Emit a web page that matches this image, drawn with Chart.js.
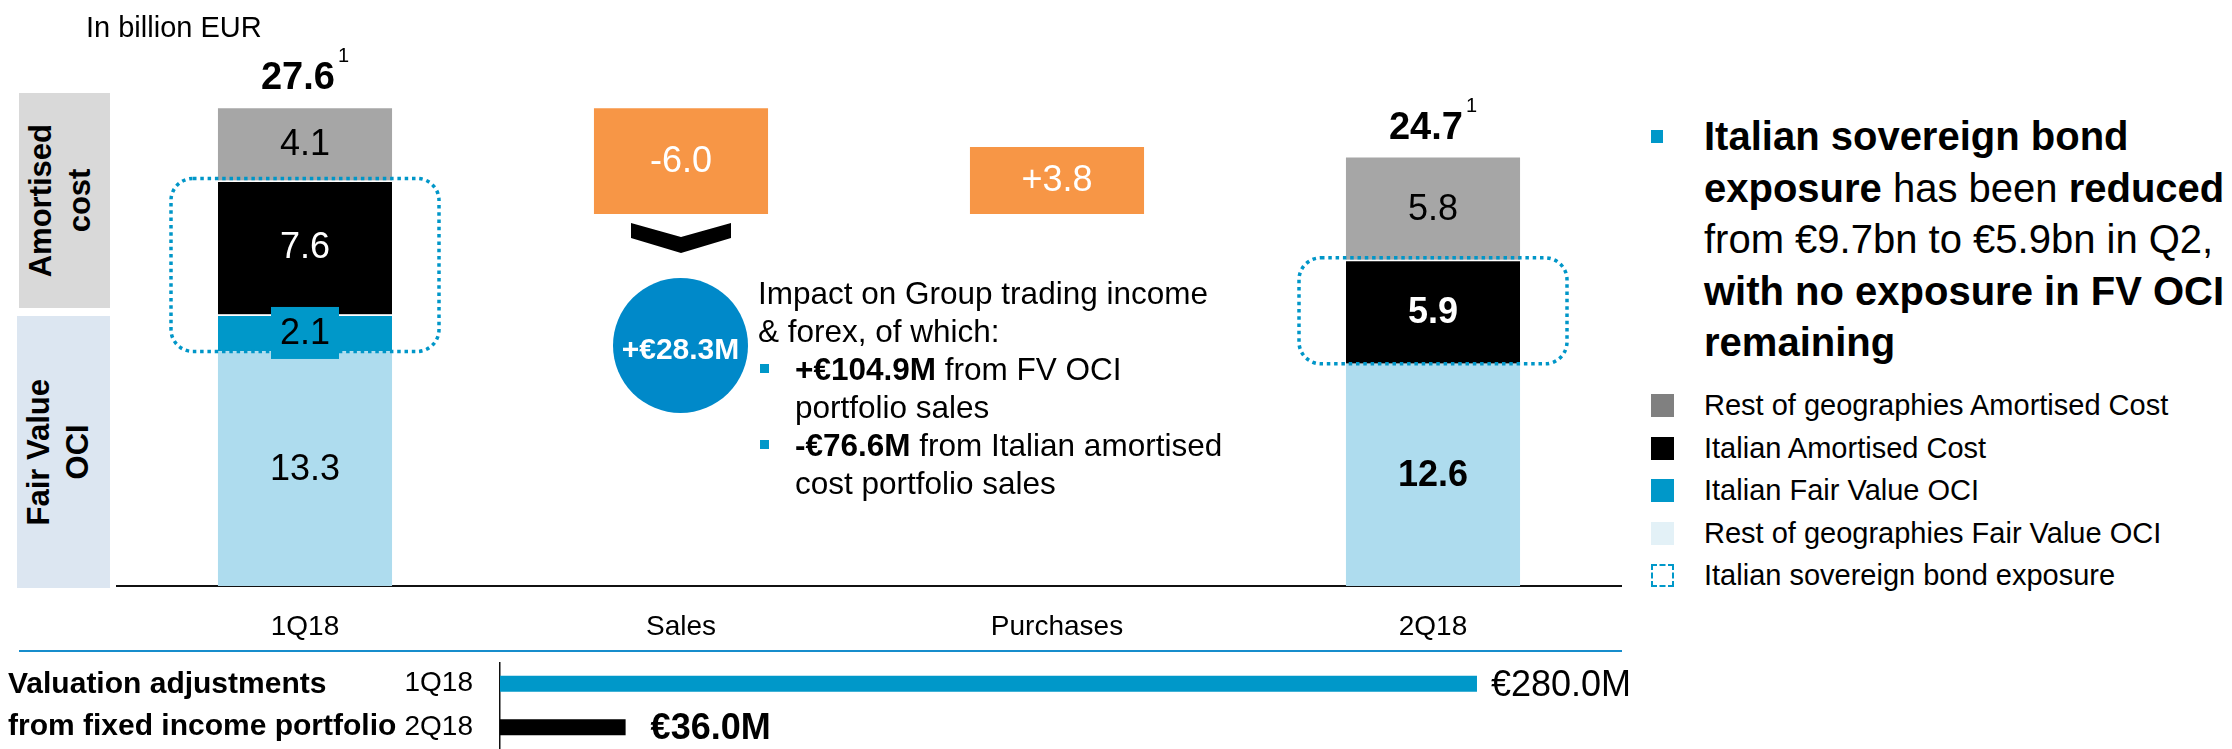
<!DOCTYPE html>
<html>
<head>
<meta charset="utf-8">
<script src="https://cdn.jsdelivr.net/npm/chart.js@4.4.1/dist/chart.umd.min.js"></script>
<style>
    body { margin: 0; background: #fff; }
    #page { position: relative; width: 2232px; height: 749px; overflow: hidden; font-family: 'Liberation Sans', Arial, sans-serif; color: #000; }
    .abs { position: absolute; }
    .side { position: absolute; display: flex; align-items: center; justify-content: center; box-sizing: border-box; }
    .side span { writing-mode: vertical-rl; transform: rotate(180deg); font-weight: bold; font-size: 31px; line-height: 39px; text-align: center; white-space: nowrap; }
    .item { position: relative; padding-left: 37px; }
    .item .sq { position: absolute; left: 2px; top: 14px; width: 9px; height: 9px; background: #0098c9; }
    .leg { position: absolute; left: 1651px; height: 42px; line-height: 42px; font-size: 29px; white-space: nowrap; }
    .leg i { position: absolute; left: 0; top: 10px; width: 23px; height: 23px; box-sizing: border-box; }
    .leg span { position: absolute; left: 53px; top: 0; }
</style>
</head>
<body>
<div id="page">
    <canvas id="mainChart" width="1640" height="660" class="abs" style="left:0;top:0"></canvas>
    <canvas id="valChart" width="1660" height="87" class="abs" style="left:0;top:662px"></canvas>

    <div class="abs" style="left:86px;top:10px;font-size:29px;line-height:34px;white-space:nowrap">In billion EUR</div>

    <!-- kutular: sol taraftaki döndürülmüş etiketler -->
    <div class="side" style="left:19px;top:93px;width:91px;height:215px;background:#d9d9d9;padding-right:10px"><span>Amortised<br>cost</span></div>
    <div class="side" style="left:17px;top:316px;width:93px;height:272px;background:#dce6f1;padding-right:12px"><span>Fair Value<br>OCI</span></div>

    <!-- ok ve daire -->
    <div class="abs" style="left:631px;top:223px;width:100px;height:30px;background:#000;clip-path:polygon(0 0,50% 47%,100% 0,100% 50%,50% 100%,0 50%)"></div>
    <div class="abs" style="left:613px;top:278px;width:135px;height:135px;border-radius:50%;background:#0089c9;color:#fff;font-weight:bold;font-size:30px;display:flex;align-items:center;justify-content:center;padding-top:6px;box-sizing:border-box;white-space:nowrap">+€28.3M</div>

    <div class="abs" style="left:758px;top:274px;font-size:31.5px;line-height:38px;white-space:nowrap">
        Impact on Group trading income<br>&amp; forex, of which:
        <div class="item"><span class="sq"></span><b>+€104.9M</b> from FV OCI<br>portfolio sales</div>
        <div class="item"><span class="sq"></span><b>-€76.6M</b> from Italian amortised<br>cost portfolio sales</div>
    </div>

    <!-- sağ taraftaki açıklama -->
    <div class="abs" style="left:1651px;top:130px;width:12px;height:13px;background:#0098c9"></div>
    <div class="abs" style="left:1704px;top:111px;font-size:40px;line-height:51.5px;white-space:nowrap">
        <b>Italian sovereign bond</b><br><b>exposure</b> has been <b>reduced</b><br>from €9.7bn to €5.9bn in Q2,<br><b>with no exposure in FV OCI</b><br><b>remaining</b>
    </div>

    <div id="legend"></div>

    <div class="abs" style="left:19px;top:650px;width:1603px;height:2px;background:#178dcc"></div>
    <div class="abs" style="left:8px;top:662px;font-size:30px;line-height:42px;font-weight:bold;white-space:nowrap">Valuation adjustments<br>from fixed income portfolio</div>
</div>

<script>
// Grafik verileri
const categories = ['1Q18', 'Sales', 'Purchases', '2Q18'];
const restFvOci = [13.3, null, null, 12.6];
const italianFvOci = [2.1, null, null, 0];
const italianAmortised = [7.6, null, null, 5.9];
const restAmortised = [4.1, null, null, 5.8];
const reportedTotals = [27.6, null, null, 24.7];
const flows = [null, -6.0, 3.8, null];

const valCategories = ['1Q18', '2Q18'];
const valuationAdj = [280.0, 36.0];

const legendItems = [
    ['Rest of geographies Amortised Cost', 'background:#808080'],
    ['Italian Amortised Cost', 'background:#000'],
    ['Italian Fair Value OCI', 'background:#0098c9'],
    ['Rest of geographies Fair Value OCI', 'background:#e3f1f7'],
    ['Italian sovereign bond exposure', 'border:2px dashed #0098c9']
];

const FONT = "'Liberation Sans', Arial, sans-serif";
Chart.defaults.font.family = FONT;
Chart.defaults.color = '#000';

// Şelale: satışlar 1Q18 yığınının tepesinden başlar, alımlar satışların bittiği yerden
let level = restFvOci[0] + italianFvOci[0] + italianAmortised[0] + restAmortised[0];
const flowRanges = flows.map(v => {
    if (v === null) return null;
    const start = level;
    level += v;
    return [Math.min(start, level), Math.max(start, level)];
});

// Lejant
const legendBox = document.getElementById('legend');
legendItems.forEach((item, k) => {
    const row = document.createElement('div');
    row.className = 'leg';
    row.style.top = (384 + k * 42.5) + 'px';
    row.innerHTML = `<i style="${item[1]}"></i><span>${item[0]}</span>`;
    legendBox.appendChild(row);
});

function roundedBox(ctx, x, y, w, h, r) {
    ctx.beginPath();
    ctx.moveTo(x + r, y);
    ctx.arcTo(x + w, y, x + w, y + h, r);
    ctx.arcTo(x + w, y + h, x, y + h, r);
    ctx.arcTo(x, y + h, x, y, r);
    ctx.arcTo(x, y, x + w, y, r);
    ctx.closePath();
}

// Noktalı kutular, segment etiketleri ve toplamlar
const annotations = {
    id: 'annotations',
    afterDatasetsDraw(chart) {
        const ctx = chart.ctx;
        const metaFv = chart.getDatasetMeta(1);
        const metaAc = chart.getDatasetMeta(2);
        const metaRest = chart.getDatasetMeta(3);

        // İtalyan devlet tahvili pozisyonu
        ctx.save();
        ctx.strokeStyle = '#0096c8';
        ctx.lineWidth = 3.5;
        ctx.setLineDash([3.5, 3.8]);
        categories.forEach((c, i) => {
            if (italianAmortised[i] === null) return;
            const ac = metaAc.data[i];
            const top = ac.y - 2;
            const bottom = italianFvOci[i] > 0 ? metaFv.data[i].base : ac.base;
            roundedBox(ctx, ac.x - 134, top, 268, bottom - top, 22);
            ctx.stroke();
        });
        ctx.restore();

        ctx.save();
        ctx.textAlign = 'center';
        ctx.textBaseline = 'middle';
        chart.data.datasets.forEach((ds, di) => {
            const lbl = ds.valueLabel;
            if (!lbl) return;
            chart.getDatasetMeta(di).data.forEach((bar, i) => {
                const v = ds.data[i];
                if (v === null || v === 0) return;
                const cy = (bar.y + bar.base) / 2;
                if (lbl.box) {
                    ctx.fillStyle = lbl.box;
                    ctx.fillRect(bar.x - 34, cy - 26, 68, 52);
                }
                const bold = lbl.bold && lbl.bold[i];
                ctx.font = `${bold ? 'bold ' : ''}36px ${FONT}`;
                ctx.fillStyle = lbl.color;
                ctx.fillText(lbl.format(i), bar.x, cy + 1);
            });
        });

        // Toplam ve dipnot
        ctx.textAlign = 'left';
        ctx.textBaseline = 'alphabetic';
        reportedTotals.forEach((t, i) => {
            if (t === null) return;
            const bar = metaRest.data[i];
            const main = t.toFixed(1);
            ctx.font = `bold 38px ${FONT}`;
            const w1 = ctx.measureText(main).width;
            ctx.font = `20px ${FONT}`;
            const w2 = ctx.measureText('1').width;
            const x0 = bar.x - (w1 + 3 + w2) / 2;
            const base = bar.y - 19;
            ctx.fillStyle = '#000';
            ctx.font = `bold 38px ${FONT}`;
            ctx.fillText(main, x0, base);
            ctx.font = `20px ${FONT}`;
            ctx.fillText('1', x0 + w1 + 3, base - 27);
        });
        ctx.restore();
    }
};

const fmt1 = arr => i => arr[i].toFixed(1);
// segmentler arasındaki ince beyaz çizgi
const whiteTop = { borderColor: '#fff', borderWidth: { top: 1.5, right: 0, bottom: 0, left: 0 } };

new Chart(document.getElementById('mainChart').getContext('2d'), {
    type: 'bar',
    data: {
        labels: categories,
        datasets: [
            { label: 'Rest of geographies Fair Value OCI', data: restFvOci, backgroundColor: '#aedcee',
              valueLabel: { color: '#000', bold: [false, false, false, true], format: fmt1(restFvOci) } },
            Object.assign({ label: 'Italian Fair Value OCI', data: italianFvOci, backgroundColor: '#0098c9',
              valueLabel: { color: '#000', box: '#0098c9', format: fmt1(italianFvOci) } }, whiteTop),
            Object.assign({ label: 'Italian Amortised Cost', data: italianAmortised, backgroundColor: '#000',
              valueLabel: { color: '#fff', bold: [false, false, false, true], format: fmt1(italianAmortised) } }, whiteTop),
            { label: 'Rest of geographies Amortised Cost', data: restAmortised, backgroundColor: '#a6a6a6',
              valueLabel: { color: '#000', format: fmt1(restAmortised) } },
            { label: 'Flows', data: flowRanges, backgroundColor: '#f79646',
              valueLabel: { color: '#fff', format: i => (flows[i] > 0 ? '+' : '') + flows[i].toFixed(1) } }
        ]
    },
    options: {
        responsive: false,
        animation: false,
        layout: { padding: { left: 117, right: 19, top: 57, bottom: 0 } },
        datasets: { bar: { categoryPercentage: 1, barPercentage: 0.463, borderWidth: 0, borderSkipped: false } },
        plugins: { legend: { display: false }, tooltip: { enabled: false } },
        scales: {
            x: {
                stacked: true,
                grid: { display: false, drawTicks: false },
                border: { display: true, color: '#111', width: 2 },
                ticks: { font: { size: 28 }, color: '#000', padding: 24 },
                afterFit(scale) { scale.height = 74; }
            },
            y: { stacked: true, display: false, min: 0, max: 30 }
        }
    },
    plugins: [annotations]
});

// Alt grafik: sabit getirili portföy değerleme ayarlamaları
const valLabels = {
    id: 'valLabels',
    afterDatasetsDraw(chart) {
        const ctx = chart.ctx;
        ctx.save();
        ctx.textBaseline = 'middle';
        ctx.textAlign = 'left';
        chart.getDatasetMeta(0).data.forEach((bar, i) => {
            const bold = i === 1;
            ctx.font = `${bold ? 'bold ' : ''}36px ${FONT}`;
            ctx.fillStyle = '#000';
            ctx.fillText('€' + valuationAdj[i].toFixed(1) + 'M', bar.x + (bold ? 25 : 14), bar.y + 2);
        });
        ctx.restore();
    }
};

new Chart(document.getElementById('valChart').getContext('2d'), {
    type: 'bar',
    data: {
        labels: valCategories,
        datasets: [{ data: valuationAdj, backgroundColor: ['#0098c9', '#000'], borderWidth: 0,
                     categoryPercentage: 1, barPercentage: 0.37 }]
    },
    options: {
        indexAxis: 'y',
        responsive: false,
        animation: false,
        layout: { padding: { left: 0, right: 26, top: 0, bottom: 0 } },
        plugins: { legend: { display: false }, tooltip: { enabled: false } },
        scales: {
            x: { display: false, min: 0, max: 325 },
            y: {
                grid: { display: false, drawTicks: false },
                border: { display: true, color: '#111', width: 1.5 },
                ticks: { font: { size: 28 }, color: '#000', padding: 27 },
                // etiket boşluğu dikey alanı yemesin
                afterFit(scale) {
                    scale.width = 500;
                    scale.paddingTop = 0;
                    scale.paddingBottom = 0;
                }
            }
        }
    },
    plugins: [valLabels]
});
</script>
</body>
</html>
